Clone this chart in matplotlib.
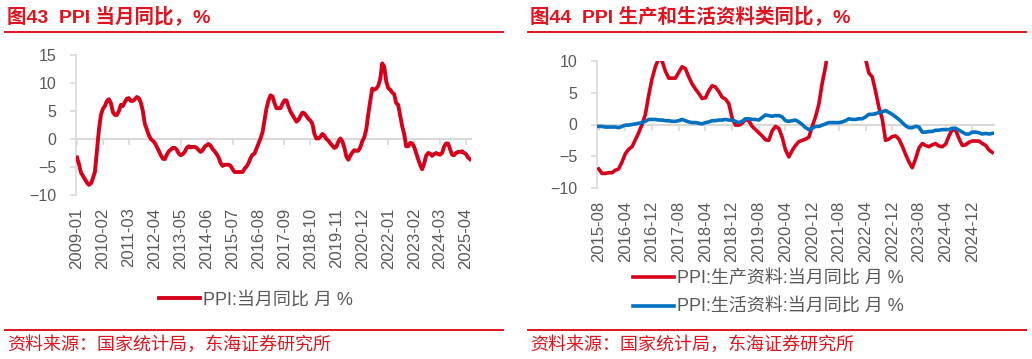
import matplotlib
matplotlib.use('Agg')
import matplotlib.pyplot as plt
import numpy as np
import pandas as pd

plt.rcParams['font.family'] = ['Liberation Sans', 'Noto Sans CJK SC', 'DejaVu Sans']

RED = '#D7001B'
BLUE = '#0070C0'
GRAY = '#595959'
LGRAY = '#D9D9D9'
TRED = '#E0141E'

# PPI 当月同比, 2009-01 ~ 2025-06
ppi = [
    -3.3, -4.5, -6.0, -6.6, -7.2, -7.8, -8.2, -7.9, -7.0, -5.8, -2.1, 1.7,   # 2009
    4.3, 5.4, 5.9, 6.8, 7.1, 6.4, 4.8, 4.3, 4.3, 5.0, 6.1, 5.9,              # 2010
    6.6, 7.2, 7.3, 6.8, 6.8, 7.1, 7.5, 7.3, 6.5, 5.0, 2.7, 1.7,              # 2011
    0.7, 0.0, -0.3, -0.7, -1.4, -2.1, -2.9, -3.5, -3.6, -2.8, -2.2, -1.9,    # 2012
    -1.6, -1.6, -1.9, -2.6, -2.9, -2.7, -2.3, -1.6, -1.3, -1.5, -1.4, -1.4,  # 2013
    -1.6, -2.0, -2.3, -2.0, -1.4, -1.1, -0.9, -1.2, -1.8, -2.2, -2.7, -3.3,  # 2014
    -4.3, -4.8, -4.6, -4.6, -4.6, -4.8, -5.4, -5.9, -5.9, -5.9, -5.9, -5.9,  # 2015
    -5.3, -4.9, -4.3, -3.4, -2.8, -2.6, -1.7, -0.8, 0.1, 1.2, 3.3, 5.5,      # 2016
    6.9, 7.8, 7.6, 6.4, 5.5, 5.5, 5.5, 6.3, 6.9, 6.9, 5.8, 4.9,              # 2017
    4.3, 3.7, 3.1, 3.4, 4.1, 4.7, 4.6, 4.1, 3.6, 3.3, 2.7, 0.9,              # 2018
    0.1, 0.1, 0.4, 0.9, 0.6, 0.0, -0.3, -0.8, -1.2, -1.6, -1.4, -0.5,        # 2019
    0.1, -0.4, -1.5, -3.1, -3.7, -3.0, -2.4, -2.0, -2.1, -2.1, -1.5, -0.4,   # 2020
    0.3, 1.7, 4.4, 6.8, 9.0, 8.8, 9.0, 9.5, 10.7, 13.5, 12.9, 10.3,          # 2021
    9.1, 8.8, 8.3, 8.0, 6.4, 6.1, 4.2, 2.3, 0.9, -1.3, -1.3, -0.7,           # 2022
    -0.8, -1.4, -2.5, -3.6, -4.6, -5.4, -4.4, -3.0, -2.5, -2.6, -3.0, -2.7,  # 2023
    -2.5, -2.7, -2.8, -2.5, -1.4, -0.8, -0.8, -1.8, -2.8, -2.9, -2.5, -2.3,  # 2024
    -2.3, -2.2, -2.5, -2.7, -3.3, -3.6,                                      # 2025
]
ppi_months = pd.date_range('2009-01', periods=len(ppi), freq='MS').strftime('%Y-%m').tolist()

# PPI 生产资料 / 生活资料 当月同比, 2015-08 ~ 2025-06
producer = [
    -7.0, -7.7, -7.7, -7.6, -7.6,                                           # 2015
    -7.2, -7.0, -5.9, -4.6, -3.9, -3.5, -2.4, -1.3, 0.0, 1.6, 4.6, 7.2,     # 2016
    9.1, 10.4, 10.0, 8.4, 7.3, 7.3, 7.3, 8.2, 9.1, 8.8, 7.5, 6.4,           # 2017
    5.6, 4.9, 4.1, 4.2, 5.3, 6.1, 5.9, 5.2, 4.3, 4.0, 3.3, 1.0,             # 2018
    -0.1, -0.1, 0.2, 0.8, 0.6, -0.3, -0.8, -1.3, -1.8, -2.4, -2.5, -1.0,    # 2019
    -0.3, -0.6, -2.0, -4.0, -5.1, -4.1, -3.3, -2.7, -2.5, -2.3, -2.0, -0.3, # 2020
    1.2, 3.2, 6.5, 9.1, 12.8, 11.8, 12.0, 12.7, 14.3, 17.9, 17.0, 13.4,     # 2021
    12.1, 11.4, 10.7, 10.3, 8.1, 7.5, 5.2, 2.7, 0.9, -2.5, -2.3, -1.9,      # 2022
    -1.8, -2.3, -3.4, -4.7, -5.9, -6.8, -5.4, -3.7, -3.0, -3.3, -3.5, -3.2, # 2023
    -3.0, -3.4, -3.5, -3.1, -1.8, -0.8, -0.9, -2.2, -3.3, -3.2, -2.8, -2.6, # 2024
    -2.6, -2.6, -3.0, -3.3, -4.0, -4.4,                                     # 2025
]
consumer = [
    -0.3, -0.3, -0.4, -0.4, -0.4,                                           # 2015
    -0.4, -0.5, -0.3, -0.1, -0.1, 0.0, 0.1, 0.2, 0.3, 0.5, 0.8, 0.8,        # 2016
    0.8, 0.7, 0.7, 0.6, 0.6, 0.5, 0.5, 0.6, 0.8, 0.6, 0.4, 0.3,             # 2017
    0.3, 0.2, 0.1, 0.3, 0.4, 0.6, 0.6, 0.7, 0.7, 0.8, 0.7, 0.7,             # 2018
    0.5, 0.3, 0.5, 0.9, 0.9, 0.8, 0.8, 0.7, 1.1, 1.5, 1.4, 1.3,             # 2019
    1.4, 1.4, 1.2, 0.6, 0.5, 0.6, 0.7, 0.4, 0.0, -0.5, -0.8, -0.6,          # 2020
    -0.3, -0.3, -0.1, 0.1, 0.3, 0.3, 0.3, 0.3, 0.4, 0.6, 0.9, 0.8,          # 2021
    0.8, 0.9, 0.9, 1.2, 1.6, 1.6, 1.7, 1.9, 2.0, 2.2, 1.9, 1.6,             # 2022
    1.2, 0.8, 0.3, -0.2, -0.5, -0.5, -0.3, -0.4, -1.2, -1.2, -1.1, -1.1,    # 2023
    -0.9, -0.9, -0.8, -0.8, -0.8, -0.6, -0.6, -0.9, -1.2, -1.5, -1.5, -1.2, # 2024
    -1.2, -1.3, -1.5, -1.4, -1.5, -1.4,                                     # 2025
]
pc_months = pd.date_range('2015-08', periods=len(producer), freq='MS').strftime('%Y-%m').tolist()


def style_axis(ax, months, step, ylim, yticks):
    ax.set_xlim(-0.5, len(months) - 0.5)
    ax.set_ylim(*ylim)
    ax.set_yticks(yticks)
    for s in ['top', 'right']:
        ax.spines[s].set_visible(False)
    ax.spines['left'].set_color(LGRAY)
    ax.spines['left'].set_linewidth(1.2)
    ax.spines['bottom'].set_position(('data', 0))
    ax.spines['bottom'].set_color(LGRAY)
    ax.spines['bottom'].set_linewidth(1.5)
    ax.spines['bottom'].set_zorder(1)
    ticks = np.arange(0, len(months), step)
    ax.set_xticks(ticks)
    ax.tick_params(axis='x', direction='out', length=4, color=LGRAY, width=1.2, labelbottom=False)
    ax.tick_params(axis='y', direction='out', length=4, color=LGRAY, width=1.2,
                   labelsize=11.5, labelcolor=GRAY, pad=10)
    sec = ax.secondary_xaxis('bottom')
    sec.spines['bottom'].set_visible(False)
    sec.set_xticks(ticks, [months[i] for i in ticks], rotation=90)
    sec.tick_params(length=0, labelsize=12, labelcolor=GRAY, pad=9)
    ax.patch.set_alpha(0)


fig = plt.figure(figsize=(10.32, 3.59), dpi=100)

# left chart
ax1 = fig.add_axes([76 / 1032, 1 - 195 / 359, 395 / 1032, 140 / 359])
x1 = np.arange(len(ppi))
ax1.plot(x1, ppi, color=RED, lw=2.8, label='PPI:当月同比 月 %', zorder=3)
style_axis(ax1, ppi_months, 13, (-10, 15), [-10, -5, 0, 5, 10, 15])
ax1.legend(loc='center', bbox_to_anchor=(256 / 1032, 1 - 300 / 359), bbox_transform=fig.transFigure,
           frameon=False, fontsize=13, handlelength=2.3, handletextpad=0.15, labelcolor=GRAY)

# right chart
ax2 = fig.add_axes([597 / 1032, 1 - 188 / 359, 397 / 1032, 127 / 359])
x2 = np.arange(len(producer))
ax2.plot(x2, producer, color=RED, lw=2.6, label='PPI:生产资料:当月同比 月 %', zorder=3)
ax2.plot(x2, consumer, color=BLUE, lw=2.6, label='PPI:生活资料:当月同比 月 %', zorder=3)
style_axis(ax2, pc_months, 8, (-10, 10), [-10, -5, 0, 5, 10])
ax2.legend(loc='center', bbox_to_anchor=(768 / 1032, 1 - 293 / 359), bbox_transform=fig.transFigure,
           frameon=False, fontsize=13, handlelength=2.3, handletextpad=0.15, labelcolor=GRAY,
           labelspacing=0.65)

# titles, rules and sources
for x0, x1_, title in [(5, 503, '图43  PPI 当月同比，%'), (528, 1026, '图44  PPI 生产和生活资料类同比，%')]:
    fig.text((x0 + 2) / 1032, 1 - 16 / 359, title, color=TRED, fontsize=14, fontweight='bold',
             va='center', ha='left')
    fig.add_artist(plt.Line2D([x0 / 1032, x1_ / 1032], [1 - 32 / 359] * 2, color=TRED, lw=1.4))
    fig.add_artist(plt.Line2D([x0 / 1032, x1_ / 1032], [1 - 330 / 359] * 2, color=TRED, lw=1.4))
    fig.text((x0 + 2) / 1032, 1 - 345 / 359, '资料来源：国家统计局，东海证券研究所', color=TRED,
             fontsize=13, va='center', ha='left')

fig.savefig('out.png', dpi=100)
